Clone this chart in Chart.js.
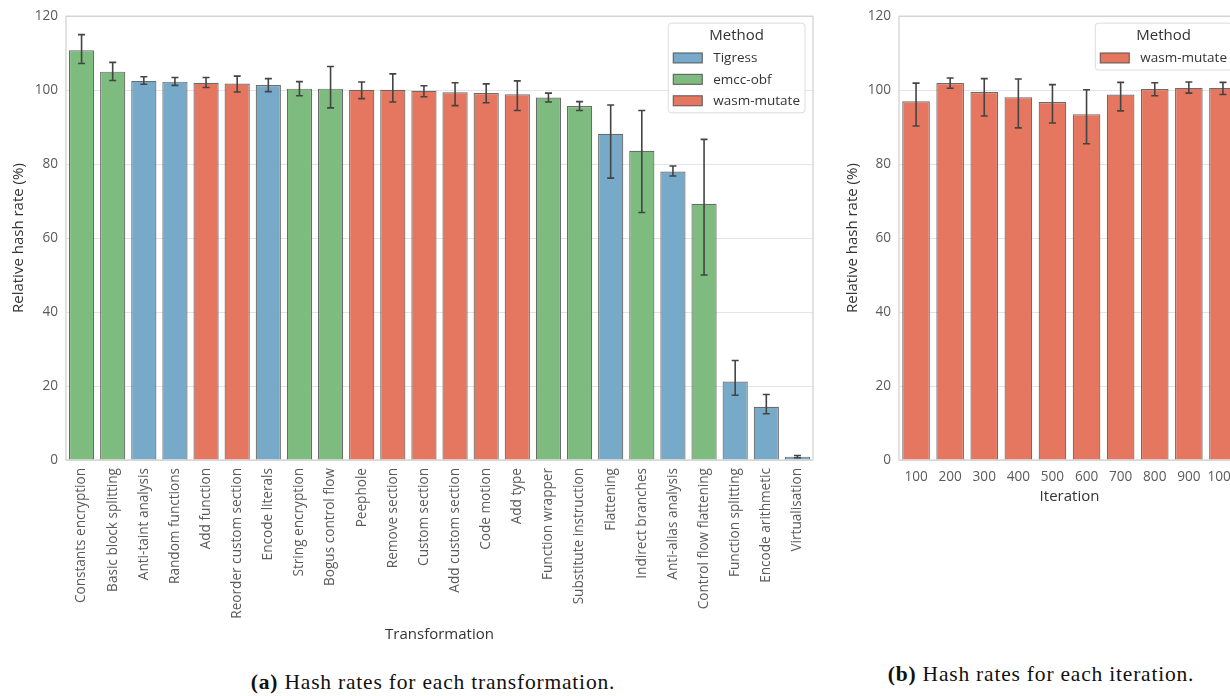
<!DOCTYPE html>
<html>
<head>
<meta charset="utf-8">
<script src="https://cdn.jsdelivr.net/npm/chart.js@4/dist/chart.umd.min.js"></script>
<style>
  html, body { margin: 0; padding: 0; background: #fff; }
  body { width: 1230px; height: 696px; overflow: hidden; position: relative; }
  canvas { position: absolute; top: 0; }
  #chartA { left: 0; }
  #chartB { left: 830px; }
  .caption {
    position: absolute; text-align: center; white-space: nowrap;
    font-family: "Liberation Serif", "DejaVu Serif", serif; font-size: 21.5px;
    letter-spacing: 0.8px; color: #111;
  }
  .caption b { font-weight: bold; }
</style>
</head>
<body>
<canvas id="chartA" width="830" height="660"></canvas>
<canvas id="chartB" width="420" height="520"></canvas>
<div class="caption" style="left:133px; width:600px; top:670px;"><b>(a)</b> Hash rates for each transformation.</div>
<div class="caption" style="left:741px; width:600px; top:662px;"><b>(b)</b> Hash rates for each iteration.</div>
<script>
// ---- (a) relative hash rate per transformation ----
const transformations = [
  'Constants encryption', 'Basic block splitting', 'Anti-taint analysis', 'Random functions',
  'Add function', 'Reorder custom section', 'Encode literals', 'String encryption',
  'Bogus control flow', 'Peephole', 'Remove section', 'Custom section',
  'Add custom section', 'Code motion', 'Add type', 'Function wrapper',
  'Substitute instruction', 'Flattening', 'Indirect branches', 'Anti-alias analysis',
  'Control flow flattening', 'Function splitting', 'Encode arithmetic', 'Virtualisation'
];
const transformationMethod = [
  'emcc-obf', 'emcc-obf', 'Tigress', 'Tigress',
  'wasm-mutate', 'wasm-mutate', 'Tigress', 'emcc-obf',
  'emcc-obf', 'wasm-mutate', 'wasm-mutate', 'wasm-mutate',
  'wasm-mutate', 'wasm-mutate', 'wasm-mutate', 'emcc-obf',
  'emcc-obf', 'Tigress', 'emcc-obf', 'Tigress',
  'emcc-obf', 'Tigress', 'Tigress', 'Tigress'
];
const transformationRate = [
  110.8, 105.0, 102.5, 102.3, 102.0, 101.8, 101.4, 100.4,
  100.4, 100.1, 100.1, 99.8, 99.4, 99.2, 98.9, 98.0,
  95.7, 88.2, 83.6, 78.0, 69.3, 21.2, 14.4, 0.9
];
const transformationLow = [
  107.2, 102.6, 101.6, 101.3, 100.7, 99.5, 99.6, 98.5,
  95.2, 97.7, 96.8, 98.2, 95.8, 96.6, 94.5, 96.8,
  94.5, 76.2, 66.9, 76.8, 50.0, 17.5, 12.5, 0.6
];
const transformationHigh = [
  115.0, 107.5, 103.6, 103.4, 103.4, 103.8, 103.1, 102.3,
  106.4, 102.2, 104.4, 101.2, 102.0, 101.7, 102.5, 99.2,
  96.9, 96.0, 94.5, 79.5, 86.7, 26.9, 17.7, 1.2
];

// ---- (b) relative hash rate per iteration count ----
const iterations = ['100', '200', '300', '400', '500', '600', '700', '800', '900', '1000'];
const iterationRate = [97.0, 101.9, 99.5, 98.1, 96.8, 93.5, 98.8, 100.3, 100.6, 100.6];
const iterationLow  = [90.3, 100.5, 93.0, 89.8, 91.1, 85.5, 94.4, 98.5, 99.2, 98.8];
const iterationHigh = [101.9, 103.3, 103.1, 103.0, 101.5, 100.1, 102.1, 102.0, 102.2, 102.1];

const yTicks = [0, 20, 40, 60, 80, 100, 120];

const methodOrder = ['Tigress', 'emcc-obf', 'wasm-mutate'];
const methodColor = {
  'Tigress': '#77a9c9',
  'emcc-obf': '#7dbb7e',
  'wasm-mutate': '#e5765f'
};

const FONT = '"Open Sans", "DejaVu Sans", sans-serif';
const TICK_COLOR = '#5a5a5a';
const TITLE_COLOR = '#333';

// Light frame round the plotting area
const frame = {
  id: 'frame',
  beforeDatasetsDraw(chart) {
    const { ctx, chartArea: a } = chart;
    ctx.save();
    ctx.strokeStyle = '#cfcfcf';
    ctx.lineWidth = 1.2;
    ctx.strokeRect(a.left, a.top, a.right - a.left, a.bottom - a.top);
    ctx.restore();
  }
};

// Whiskers showing the spread of each bar
const errorBars = {
  id: 'errorBars',
  afterDatasetsDraw(chart, args, opts) {
    const { ctx } = chart;
    const yScale = chart.scales.y;
    const meta = chart.getDatasetMeta(0);
    ctx.save();
    ctx.strokeStyle = '#444';
    ctx.lineWidth = 1.6;
    meta.data.forEach((bar, i) => {
      const x = bar.x;
      const yl = yScale.getPixelForValue(opts.low[i]);
      const yh = yScale.getPixelForValue(opts.high[i]);
      const cap = 3.5;
      ctx.beginPath();
      ctx.moveTo(x, yl); ctx.lineTo(x, yh);
      ctx.moveTo(x - cap, yl); ctx.lineTo(x + cap, yl);
      ctx.moveTo(x - cap, yh); ctx.lineTo(x + cap, yh);
      ctx.stroke();
    });
    ctx.restore();
  }
};

// Boxed "Method" legend in the upper right corner of the plot
const methodLegend = {
  id: 'methodLegend',
  afterDraw(chart, args, opts) {
    const { ctx, chartArea: a } = chart;
    const items = opts.items;
    ctx.save();
    ctx.font = '13.5px ' + FONT;
    const textW = Math.max(...items.map(t => ctx.measureText(t).width));
    const pad = 5, sw = 29, sh = 10, gap = 11, row = 21.4;
    const w = pad + sw + gap + textW + 5;
    const h = 25.5 + items.length * row;
    const x = a.right - 8 - w;
    const y = a.top + 7;
    ctx.fillStyle = 'rgba(255,255,255,0.85)';
    ctx.strokeStyle = '#dcdcdc';
    ctx.lineWidth = 1;
    ctx.beginPath();
    ctx.roundRect(x, y, w, h, 3);
    ctx.fill();
    ctx.stroke();
    ctx.fillStyle = TITLE_COLOR;
    ctx.font = '15px ' + FONT;
    ctx.textAlign = 'center';
    ctx.textBaseline = 'middle';
    ctx.fillText('Method', x + w / 2, y + 12.5);
    ctx.font = '13.5px ' + FONT;
    ctx.textAlign = 'left';
    items.forEach((m, i) => {
      const cy = y + 34.8 + i * row;
      ctx.fillStyle = methodColor[m];
      ctx.fillRect(x + pad, cy - sh / 2, sw, sh);
      ctx.strokeStyle = 'rgba(70,70,70,0.8)';
      ctx.lineWidth = 1.1;
      ctx.strokeRect(x + pad, cy - sh / 2, sw, sh);
      ctx.fillStyle = TITLE_COLOR;
      ctx.fillText(m, x + pad + sw + gap, cy + 0.5);
    });
    ctx.restore();
  }
};

function buildOptions(cfg) {
  return {
    responsive: false,
    animation: false,
    layout: { padding: { top: 16, right: cfg.padRight, bottom: 0, left: 0 } },
    plugins: {
      legend: { display: false },
      tooltip: { enabled: false },
      errorBars: { low: cfg.low, high: cfg.high },
      methodLegend: { items: cfg.legendItems }
    },
    scales: {
      x: {
        grid: { display: false, drawTicks: false },
        border: { display: false },
        ticks: {
          color: TICK_COLOR, font: { family: FONT, size: 13.6 },
          padding: cfg.xTickPad, autoSkip: false,
          minRotation: cfg.rotation, maxRotation: cfg.rotation
        },
        title: {
          display: true, text: cfg.xTitle, color: TITLE_COLOR,
          font: { family: FONT, size: 15 },
          padding: { top: 0, bottom: cfg.xTitlePad }
        },
        afterFit(scale) { scale.height = cfg.xHeight; }
      },
      y: {
        min: 0, max: 120,
        afterBuildTicks(scale) { scale.ticks = yTicks.map(v => ({ value: v })); },
        grid: { color: '#e4e4e4', lineWidth: 1, drawTicks: false },
        border: { display: false },
        ticks: { color: TICK_COLOR, font: { family: FONT, size: 13.6 }, padding: 8 },
        title: {
          display: true, text: 'Relative hash rate (%)', color: TITLE_COLOR,
          font: { family: FONT, size: 15 },
          padding: { top: cfg.yTitlePad, bottom: 0 }
        },
        afterFit(scale) { scale.width = cfg.yWidth; }
      }
    }
  };
}

new Chart(document.getElementById('chartA'), {
  type: 'bar',
  data: {
    labels: transformations,
    datasets: [{
      data: transformationRate,
      backgroundColor: transformationMethod.map(m => methodColor[m]),
      borderColor: 'rgba(70,70,70,0.8)',
      borderWidth: 1.2,
      barPercentage: 0.81,
      categoryPercentage: 1.0
    }]
  },
  options: buildOptions({
    low: transformationLow, high: transformationHigh,
    legendItems: methodOrder,
    padRight: 17, xHeight: 200, yWidth: 66,
    xTickPad: 8, rotation: 90,
    xTitle: 'Transformation', xTitlePad: 16, yTitlePad: 9.5
  }),
  plugins: [frame, errorBars, methodLegend]
});

new Chart(document.getElementById('chartB'), {
  type: 'bar',
  data: {
    labels: iterations,
    datasets: [{
      data: iterationRate,
      backgroundColor: methodColor['wasm-mutate'],
      borderColor: 'rgba(70,70,70,0.8)',
      borderWidth: 1.2,
      barPercentage: 0.81,
      categoryPercentage: 1.0
    }]
  },
  options: buildOptions({
    low: iterationLow, high: iterationHigh,
    legendItems: ['wasm-mutate'],
    padRight: 10, xHeight: 60, yWidth: 69,
    xTickPad: 9, rotation: 0,
    xTitle: 'Iteration', xTitlePad: 14, yTitlePad: 13.5
  }),
  plugins: [frame, errorBars, methodLegend]
});
</script>
</body>
</html>
